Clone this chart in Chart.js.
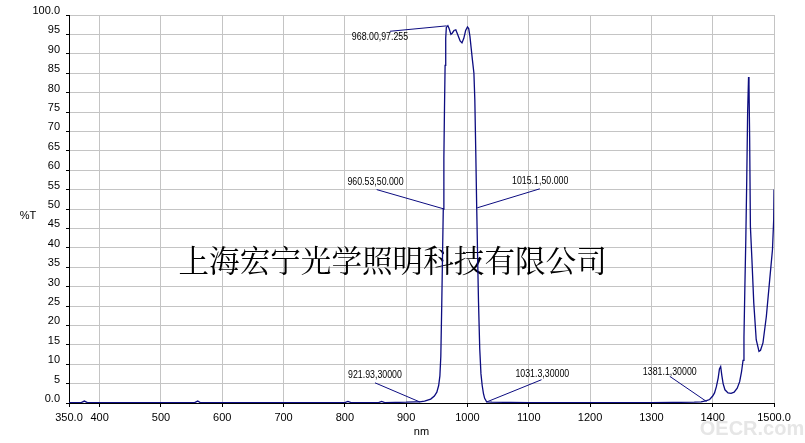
<!DOCTYPE html>
<html>
<head>
<meta charset="utf-8">
<script src="https://cdn.jsdelivr.net/npm/chart.js@4"></script>
<style>
  html, body { margin: 0; padding: 0; background: #fff; }
  #wrap { width: 805px; height: 443px; position: relative; }
</style>
</head>
<body>
<div id="wrap"><canvas id="canvasSpectrum"></canvas></div>
<script>
// 光谱数据 (nm, %T)
const wavelength = [
  350, 370, 375, 380, 420, 555, 560, 564, 700, 800, 805, 810, 855, 860, 865, 900, 915, 922,
  930, 940, 946, 950, 953, 955, 956.5, 958, 959.5, 960.53, 961.5, 962.5, 963.5, 964.5, 965.5,
  968, 970, 973, 975, 978, 981, 984, 988, 991, 994, 997, 1000, 1002, 1004, 1006, 1008, 1010.5,
  1012, 1013.5, 1015.1, 1016.5, 1018, 1020, 1022, 1024, 1026, 1028, 1031.3, 1040, 1100, 1200,
  1300, 1370, 1381.1, 1390, 1395, 1400, 1403, 1406, 1409, 1411, 1413, 1415, 1417, 1420, 1425,
  1430, 1435, 1440, 1444, 1447, 1449.5, 1451, 1452.5, 1454, 1455.5, 1457, 1458.5, 1459.2, 1460.3,
  1461.5, 1464, 1467, 1471, 1475.5, 1478, 1482, 1487.5, 1493, 1497.5, 1499.5, 1500
];
const transmission = [
  0.1, 0.1, 0.5, 0.1, 0.1, 0.1, 0.5, 0.1, 0.1, 0.1, 0.4, 0.1, 0.1, 0.4, 0.1, 0.2, 0.3, 0.3,
  0.5, 1.0, 1.8, 2.8, 4.5, 7.0, 12, 25, 40, 50, 63, 76, 87, 94, 96.8,
  97.255, 96.5, 95.0, 95.3, 96.0, 96.2, 95.0, 93.3, 92.8, 94.0, 96.0, 96.9, 96.5, 94.5, 91.5, 88.5, 85,
  78, 65, 50, 38, 26, 14, 7.5, 4.5, 2.5, 1.2, 0.3, 0.2, 0.1, 0.1,
  0.1, 0.2, 0.3, 0.6, 0.9, 1.8, 2.6, 4.2, 6.5, 8.8, 9.4, 7.0, 5.0, 3.4, 2.6,
  2.5, 2.8, 3.8, 5.5, 8, 11, 17, 30, 42, 57, 75, 84, 82, 68,
  45.5, 36.9, 25.8, 16.3, 13.3, 13.6, 15.5, 22.3, 31.8, 39.5, 47.2, 55
];

// 坐标刻度
const xTickValues = [350, 400, 500, 600, 700, 800, 900, 1000, 1100, 1200, 1300, 1400, 1500];
const xTickLabels = ['350.0', '400', '500', '600', '700', '800', '900', '1000', '1100', '1200', '1300', '1400', '1500.0'];
const yTickValues = [0, 5, 10, 15, 20, 25, 30, 35, 40, 45, 50, 55, 60, 65, 70, 75, 80, 85, 90, 95, 100];
const yTickLabels = ['0.0', '5', '10', '15', '20', '25', '30', '35', '40', '45', '50', '55', '60', '65', '70', '75', '80', '85', '90', '95', '100.0'];

// 标注 (数据坐标)
const annoText = ['968.00,97.255', '960.53,50.000', '1015.1,50.000', '921.93,30000', '1031.3,30000', '1381.1,30000'];
const annoPoint = [[966, 97.2], [962, 50], [1015.9, 50.3], [922.4, 0.26], [1031.2, 0.26], [1389.8, 0.4]];
const annoLabel = [[857.3, 94.4], [850, 57.0], [1118.6, 57.2], [849.1, 7.1], [1122.1, 7.55], [1330, 8.0]];
const annoLeader = [[873.4, 95.8], [851.9, 55.0], [1118, 55.2], [849.1, 5.2], [1120.8, 6.0], [1330, 6.86]];

const watermark = '上海宏宁光学照明科技有限公司';
const lineColor = '#0c0c80';

Chart.defaults.font.family = '"Liberation Sans", Arial, sans-serif';
Chart.defaults.font.size = 11;
Chart.defaults.color = '#000';

// 文字、标注
const overlay = {
  id: 'overlay',
  beforeDatasetsDraw(chart) {
    const { ctx, chartArea: a } = chart;
    ctx.save();
    ctx.fillStyle = '#000';
    ctx.font = '30.6px "Noto Serif CJK SC", "Noto Sans CJK SC"';
    ctx.textAlign = 'center';
    ctx.textBaseline = 'middle';
    ctx.fillText(watermark, a.left + 0.459 * a.width, a.top + 0.632 * a.height);
    ctx.restore();
  },
  afterDatasetsDraw(chart) {
    const { ctx } = chart;
    const xs = chart.scales.x, ys = chart.scales.y;
    ctx.save();
    for (let i = 0; i < annoText.length; i++) {
      ctx.strokeStyle = lineColor;
      ctx.lineWidth = 1;
      ctx.beginPath();
      ctx.moveTo(xs.getPixelForValue(annoLeader[i][0]), ys.getPixelForValue(annoLeader[i][1]));
      ctx.lineTo(xs.getPixelForValue(annoPoint[i][0]), ys.getPixelForValue(annoPoint[i][1]));
      ctx.stroke();

      ctx.save();
      ctx.translate(xs.getPixelForValue(annoLabel[i][0]), ys.getPixelForValue(annoLabel[i][1]));
      ctx.scale(0.8, 1);
      ctx.fillStyle = '#000';
      ctx.font = '11px "Liberation Sans", Arial';
      ctx.textAlign = 'center';
      ctx.textBaseline = 'middle';
      ctx.fillText(annoText[i], 0, 0);
      ctx.restore();
    }
    ctx.restore();
  },
  afterDraw(chart) {
    const { ctx, chartArea: a } = chart;
    ctx.save();
    ctx.fillStyle = '#000';
    ctx.font = '11px "Liberation Sans", Arial';
    ctx.textAlign = 'center';
    ctx.textBaseline = 'middle';
    ctx.fillText('%T', 28, chart.scales.y.getPixelForValue(48.3));
    ctx.fillText('nm', (a.left + a.right) / 2, a.bottom + 29);
    ctx.fillStyle = '#e6e6e6';
    ctx.font = 'bold 20px "Liberation Sans", Arial';
    ctx.fillText('OECR.com', 752, 429);
    ctx.restore();
  }
};

function chartSpectrum() {
  const ctx = document.getElementById('canvasSpectrum').getContext('2d');
  new Chart(ctx, {
    type: 'line',
    data: {
      datasets: [{
        data: wavelength.map((x, i) => ({ x: x, y: transmission[i] })),
        borderColor: lineColor,
        borderWidth: 1.3,
        pointRadius: 0,
        tension: 0,
        fill: false
      }]
    },
    options: {
      responsive: true,
      maintainAspectRatio: false,
      animation: false,
      layout: { padding: { top: 15, right: 31, left: 0, bottom: 0 } },
      plugins: { legend: { display: false }, tooltip: { enabled: false } },
      scales: {
        x: {
          type: 'linear',
          min: 350,
          max: 1500,
          afterBuildTicks: s => { s.ticks = xTickValues.map(v => ({ value: v })); },
          afterFit: s => { s.height = 40; },
          ticks: {
            autoSkip: false,
            maxRotation: 0,
            padding: 4,
            callback: v => xTickLabels[xTickValues.indexOf(v)]
          },
          grid: {
            color: c => (c.tick && c.tick.value === 350) ? 'rgba(0,0,0,0)' : '#c4c4c4',
            tickColor: '#000',
            tickLength: 4
          },
          border: { color: '#000', width: 1 }
        },
        y: {
          min: 0,
          max: 100,
          afterBuildTicks: s => { s.ticks = yTickValues.map(v => ({ value: v })); },
          afterFit: s => { s.width = 69; },
          ticks: {
            autoSkip: false,
            padding: 6,
            labelOffset: -4,
            callback: v => yTickLabels[yTickValues.indexOf(v)]
          },
          grid: {
            color: c => (c.tick && c.tick.value === 0) ? 'rgba(0,0,0,0)' : '#c4c4c4',
            tickColor: '#000',
            tickLength: 3
          },
          border: { color: '#000', width: 1 }
        }
      }
    },
    plugins: [overlay]
  });
}

chartSpectrum();
</script>
</body>
</html>
